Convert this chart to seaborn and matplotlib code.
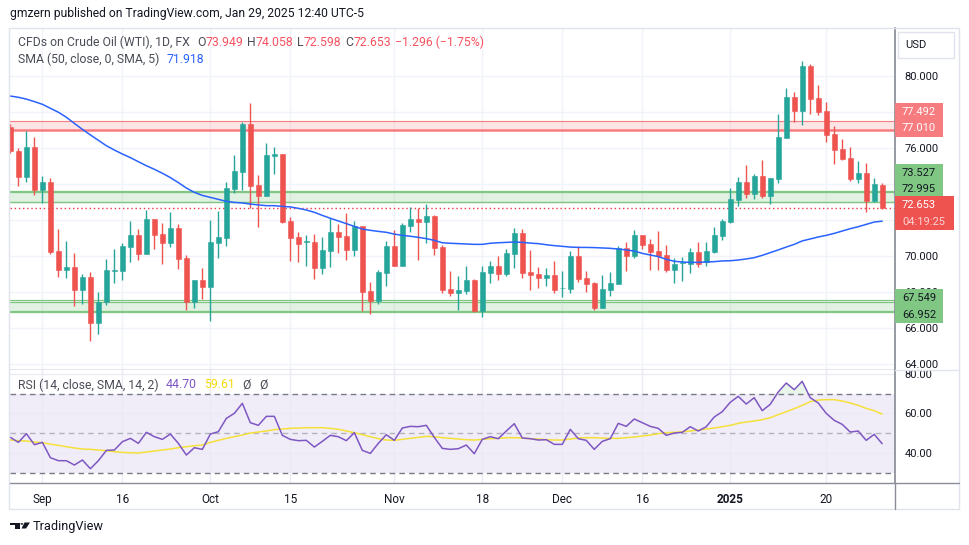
import numpy as np
import pandas as pd
import matplotlib
matplotlib.use("Agg")
import matplotlib.pyplot as plt
from matplotlib.patches import Rectangle, Polygon, Circle
from matplotlib.lines import Line2D
import seaborn as sns

# trading days on the chart (CFD trades US holidays, not Christmas / New Year)
dates = pd.bdate_range("2024-08-27", "2025-01-29")
dates = dates[~dates.isin(pd.to_datetime(["2024-12-25", "2025-01-01"]))]

opens = [77.17, 75.82, 74.39, 76.04, 73.63, 74.09, 70.26, 69.22, 69.37, 68.11,
         68.82, 66.26, 67.41, 69.17, 69.15, 70.48, 71.15, 70.11, 72.04, 71.20,
         70.71, 71.54, 69.87, 67.43, 68.65, 68.26, 70.70, 70.98, 73.70, 74.65,
         77.32, 73.93, 73.32, 75.54, 75.65, 71.93, 71.04, 70.76, 70.76, 69.32,
         70.26, 71.32, 71.09, 70.32, 71.65, 68.04, 67.48, 69.04, 70.54, 69.43,
         71.65, 72.04, 71.87, 72.20, 70.48, 68.15, 67.93, 68.04, 68.65, 66.93,
         69.04, 69.43, 68.98, 70.09, 71.26, 69.09, 68.98, 68.76, 68.93, 68.18,
         68.15, 69.98, 68.76, 68.48, 67.11, 68.11, 68.45, 70.43, 70.00, 71.15,
         70.65, 70.26, 70.04, 69.21, 69.60, 69.56, 70.21, 69.65, 70.21, 71.09,
         71.87, 73.10, 74.10, 73.43, 74.43, 73.32, 74.26, 76.54, 78.82, 78.04,
         80.54, 78.76, 78.04, 76.76, 75.93, 75.43, 74.26, 74.60, 73.04, 73.949]
highs = [77.30, 75.96, 76.93, 76.59, 74.41, 74.30, 71.48, 70.82, 70.15, 69.00,
         69.08, 67.98, 69.82, 70.37, 70.70, 71.93, 71.48, 72.54, 72.04, 71.82,
         72.43, 71.76, 70.04, 68.65, 69.32, 71.98, 72.48, 74.09, 75.59, 77.43,
         78.48, 74.48, 76.26, 76.04, 75.65, 72.15, 71.32, 71.15, 71.20, 71.04,
         72.09, 71.76, 72.37, 71.93, 71.65, 68.54, 69.20, 70.82, 71.43, 71.82,
         72.71, 72.65, 72.87, 72.26, 70.59, 69.15, 68.87, 69.43, 68.70, 69.43,
         69.70, 69.98, 70.37, 71.54, 71.48, 70.32, 69.37, 69.32, 69.70, 69.15,
         70.26, 70.54, 69.15, 68.54, 68.93, 69.09, 70.54, 70.76, 71.43, 71.15,
         70.93, 71.37, 70.59, 69.87, 69.93, 70.43, 70.76, 70.76, 71.59, 72.04,
         73.76, 74.37, 75.04, 74.54, 75.32, 74.32, 77.87, 79.32, 79.09, 80.82,
         80.65, 79.48, 78.54, 77.21, 76.48, 76.04, 75.26, 75.15, 74.32, 74.058]
lows = [75.70, 73.87, 74.11, 73.37, 72.95, 70.11, 68.82, 68.78, 67.22, 67.33,
        65.28, 65.67, 67.26, 68.48, 68.67, 69.67, 69.78, 70.11, 70.37, 69.56,
        70.48, 69.28, 66.98, 67.09, 67.59, 66.39, 69.87, 70.54, 73.48, 73.65,
        72.65, 71.59, 73.32, 74.54, 71.82, 69.71, 69.65, 69.43, 68.71, 68.98,
        69.37, 70.15, 69.76, 69.98, 66.93, 66.76, 67.32, 68.31, 69.43, 69.43,
        71.32, 69.76, 70.71, 70.04, 67.93, 67.76, 66.98, 67.87, 66.85, 66.59,
        68.48, 68.65, 68.87, 69.32, 68.76, 68.09, 68.20, 68.31, 67.93, 67.70,
        67.93, 68.54, 67.98, 67.00, 67.11, 67.78, 68.45, 69.17, 69.89, 70.37,
        69.23, 69.20, 69.09, 68.50, 68.61, 69.06, 69.39, 69.45, 70.15, 70.87,
        71.82, 72.76, 73.21, 73.15, 73.21, 72.87, 74.04, 76.54, 77.43, 77.26,
        77.87, 77.82, 76.32, 75.10, 75.32, 74.15, 74.04, 72.43, 72.98, 72.598]
closes = [75.80, 74.39, 76.04, 73.63, 74.09, 70.22, 69.22, 69.37, 68.11, 68.82,
          66.26, 67.41, 69.19, 69.22, 70.54, 71.15, 70.11, 72.04, 71.15, 70.71,
          71.54, 69.82, 67.43, 68.65, 68.26, 70.76, 71.04, 73.76, 74.71, 77.32,
          73.87, 73.32, 75.59, 75.65, 71.87, 70.98, 70.65, 70.81, 69.32, 70.32,
          71.32, 71.04, 70.32, 71.65, 67.98, 67.48, 69.09, 70.54, 69.43, 71.70,
          72.04, 71.87, 72.20, 70.43, 68.09, 67.93, 68.09, 68.65, 66.93, 69.09,
          69.43, 68.98, 70.15, 71.26, 69.04, 68.93, 68.76, 68.93, 68.09, 68.22,
          69.98, 68.70, 68.43, 67.11, 68.15, 68.48, 70.43, 70.00, 71.15, 70.61,
          70.23, 70.00, 69.21, 69.54, 69.65, 70.21, 69.56, 70.26, 71.15, 71.93,
          73.15, 74.10, 73.43, 74.43, 73.32, 74.32, 76.59, 78.82, 78.04, 80.54,
          78.71, 77.98, 76.71, 75.87, 75.37, 74.26, 74.60, 73.04, 73.98, 72.653]
sma50 = [78.87, 78.80, 78.70, 78.56, 78.41, 78.19, 77.97, 77.69, 77.35, 77.02,
         76.71, 76.41, 76.11, 75.87, 75.65, 75.45, 75.22, 75.00, 74.80, 74.58,
         74.34, 74.06, 73.76, 73.52, 73.35, 73.24, 73.13, 73.02, 72.96, 72.93,
         72.87, 72.82, 72.78, 72.78, 72.74, 72.71, 72.63, 72.54, 72.41, 72.24,
         72.08, 71.93, 71.78, 71.63, 71.48, 71.41, 71.35, 71.30, 71.20, 71.13,
         71.08, 71.02, 70.95, 70.85, 70.72, 70.69, 70.67, 70.65, 70.63, 70.63,
         70.69, 70.72, 70.74, 70.76, 70.74, 70.70, 70.67, 70.61, 70.56, 70.52,
         70.48, 70.46, 70.46, 70.45, 70.43, 70.41, 70.37, 70.32, 70.26, 70.13,
         70.04, 69.95, 69.80, 69.69, 69.65, 69.63, 69.63, 69.65, 69.67, 69.71,
         69.72, 69.76, 69.82, 69.89, 70.02, 70.17, 70.32, 70.48, 70.63, 70.82,
         70.93, 71.04, 71.13, 71.24, 71.37, 71.50, 71.61, 71.74, 71.87, 71.918]
rsi = [47.90, 45.37, 49.76, 44.19, 45.37, 37.61, 36.09, 36.09, 33.90, 36.43,
       32.04, 36.09, 41.32, 41.49, 45.71, 47.40, 44.87, 50.44, 48.24, 46.89,
       49.59, 44.87, 38.96, 42.67, 41.83, 49.59, 50.77, 57.52, 60.06, 65.12,
       55.33, 53.98, 58.54, 58.54, 48.92, 46.89, 46.22, 46.39, 43.01, 45.88,
       48.92, 48.24, 46.22, 50.27, 41.32, 39.80, 44.87, 49.25, 46.39, 52.63,
       53.47, 53.30, 53.98, 47.90, 42.33, 41.83, 42.17, 44.02, 39.63, 46.89,
       48.24, 47.23, 51.11, 54.82, 47.57, 47.23, 46.55, 46.72, 44.36, 44.36,
       51.95, 47.23, 46.39, 41.83, 45.88, 47.23, 54.99, 53.47, 57.19, 55.33,
       53.47, 52.46, 48.92, 50.10, 50.44, 53.30, 51.11, 53.30, 58.20, 60.90,
       65.63, 68.66, 64.78, 67.99, 61.41, 64.61, 70.86, 75.41, 72.04, 76.26,
       67.99, 65.29, 60.06, 56.51, 54.49, 50.60, 51.11, 46.39, 49.42, 44.70]
rsi_sma = [46.55, 46.20, 46.05, 45.54, 45.20, 44.50, 43.85, 43.18, 42.50, 42.00,
           41.83, 41.49, 41.15, 40.65, 40.30, 40.14, 39.97, 40.48, 40.99, 41.49,
           42.00, 42.67, 43.18, 43.68, 44.02, 45.37, 46.39, 47.40, 48.24, 49.08,
           50.10, 50.60, 51.11, 51.79, 52.12, 52.46, 52.63, 52.80, 52.80, 52.80,
           52.46, 51.95, 51.11, 50.27, 49.25, 48.24, 47.23, 46.55, 46.39, 46.89,
           47.40, 47.90, 48.41, 48.24, 47.74, 47.40, 47.06, 46.72, 46.55, 46.89,
           47.23, 47.40, 47.74, 47.74, 47.57, 47.23, 47.06, 46.72, 46.55, 46.55,
           47.06, 47.57, 47.74, 47.74, 47.57, 47.40, 47.40, 47.74, 48.07, 48.58,
           49.08, 49.76, 50.27, 50.44, 50.77, 51.11, 51.62, 52.12, 52.63, 53.30,
           53.98, 54.99, 55.67, 56.17, 56.85, 57.86, 59.38, 60.90, 62.42, 64.11,
           65.96, 66.81, 66.98, 66.98, 66.30, 65.29, 64.11, 62.59, 61.41, 59.61]

# horizontal zones drawn by the author
red_zone = (77.010, 77.492)
green_zones = [(72.995, 73.527), (72.995, 73.62), (66.952, 67.549), (66.87, 67.41)]
last_price = 72.653

tick_dates = ["2024-09-02", "2024-09-16", "2024-10-01", "2024-10-15", "2024-11-01",
              "2024-11-18", "2024-12-02", "2024-12-16", "2025-01-02", "2025-01-20"]
tick_labels = ["Sep", "16", "Oct", "15", "Nov", "18", "Dec", "16", "2025", "20"]
hidden_price_ticks = [72, 74, 78]  # covered by the price labels on the scale

UP, DOWN = "#26A69A", "#EF5350"
TXT = "#131722"
W, H = 970, 545

sns.set_theme(style="white")
plt.rcParams["font.family"] = ["Roboto", "DejaVu Sans"]

df = pd.DataFrame({"date": dates, "open": opens, "high": highs, "low": lows,
                   "close": closes, "sma": sma50, "rsi": rsi, "rsi_sma": rsi_sma})
df["x"] = np.arange(len(df))
ticks = [int(np.where(df["date"] == pd.Timestamp(d))[0][0]) for d in tick_dates]


def box(x0, y0, x1, y1):
    return [x0 / W, 1 - y1 / H, (x1 - x0) / W, (y1 - y0) / H]


fig = plt.figure(figsize=(W / 100, H / 100), dpi=100)
ax = fig.add_axes(box(10, 28, 895, 370))
ax2 = fig.add_axes(box(10, 370, 895, 483), sharex=ax)

# ---- price pane ----
col = np.where(df["close"] >= df["open"], UP, DOWN)
ax.vlines(df["x"], df["low"], df["high"], color=col, lw=1, zorder=3)
ax.bar(df["x"], (df["close"] - df["open"]).abs(), bottom=df[["open", "close"]].min(axis=1),
       width=0.62, color=col, edgecolor=col, linewidth=0.4, zorder=4)
sns.lineplot(data=df, x="x", y="sma", ax=ax, color="#2962FF", lw=1.1, zorder=5, legend=False)

ax.axhspan(*red_zone, color="#F77C80", alpha=0.2, lw=0, zorder=1)
ax.axhline(red_zone[1], color="#F77C80", lw=0.8, zorder=2)
ax.axhline(red_zone[0], color="#F77C80", lw=1.8, zorder=2)
for lo, hi in green_zones:
    ax.axhspan(lo, hi, color="#81C784", alpha=0.12, lw=0, zorder=1)
    ax.axhline(hi, color="#81C784", lw=0.9, zorder=2)
    ax.axhline(lo, color="#81C784", lw=0.9, zorder=2)
ax.axhline(last_price, color="#F23645", lw=1, ls=(0, (1, 2)), zorder=2)

ax.set_xlim(-0.05, 110.6)
ax.set_ylim(63.65, 82.65)
ax.yaxis.tick_right()
ax.set_yticks(np.arange(64, 81, 2))
ax.yaxis.set_major_formatter(matplotlib.ticker.FuncFormatter(
    lambda v, p: "" if round(v) in hidden_price_ticks else f"{v:.3f}"))
ax.tick_params(axis="y", length=0, pad=7, labelsize=8, labelcolor=TXT)
ax.tick_params(axis="x", length=0, labelbottom=False)
ax.set_xticks(ticks)
ax.grid(True, color="#F0F3FA", lw=1)
ax.set_xlabel("")
ax.set_ylabel("")
for s in ["top", "left"]:
    ax.spines[s].set_visible(False)
ax.spines["bottom"].set_color("#E0E3EB")
ax.spines["right"].set_color("#8A8D96")

# price scale labels
ytr = ax.get_yaxis_transform()
labels = [(77.54, ["77.492", "77.010"], "#F77C80", ["white", "white"], 48),
          (74.15, ["73.527", "72.995"], "#81C784", [TXT, TXT], 48),
          (72.36, ["72.653", "04:19:25"], "#EF5350", ["white", "#FBD3D4"], 59),
          (67.20, ["67.549", "66.952"], "#81C784", [TXT, TXT], 48)]
for yc, lines, fc, tcs, wpx in labels:
    ax.add_patch(Rectangle((1.0, yc - 17 / 18), wpx / 885, 34 / 18, transform=ytr,
                           fc=fc, ec="none", clip_on=False, zorder=8))
    for k, (s, tc) in enumerate(zip(lines, tcs)):
        ax.text(1.0 + 7 / 885, yc + (0.47 if k == 0 else -0.47), s, transform=ytr,
                color=tc, fontsize=8, va="center", ha="left", zorder=9, clip_on=False)

# ---- RSI pane ----
ax2.axhspan(30, 70, color="#7E57C2", alpha=0.1, lw=0, zorder=0)
ax2.axhline(70, color="#787B86", lw=1, ls=(0, (4, 3)), zorder=2)
ax2.axhline(30, color="#787B86", lw=1, ls=(0, (4, 3)), zorder=2)
ax2.axhline(50, color="#787B86", lw=1, ls=(0, (4, 3)), alpha=0.5, zorder=2)
ax2.fill_between(df["x"], 70, df["rsi"], where=df["rsi"] > 70, interpolate=True,
                 color="#4CAF50", alpha=0.12, lw=0)
sns.lineplot(data=df, x="x", y="rsi_sma", ax=ax2, color="#F5E03A", lw=1.1, zorder=4, legend=False)
sns.lineplot(data=df, x="x", y="rsi", ax=ax2, color="#7E57C2", lw=1.1, zorder=5, legend=False)
ax2.set_ylim(24.8, 82.0)
ax2.yaxis.tick_right()
ax2.set_yticks([40, 60, 80])
ax2.yaxis.set_major_formatter(matplotlib.ticker.FormatStrFormatter("%.2f"))
ax2.tick_params(axis="y", length=0, pad=7, labelsize=8, labelcolor=TXT)
ax2.set_xticks(ticks)
ax2.set_xticklabels(tick_labels)
ax2.tick_params(axis="x", length=0, pad=7, labelsize=8.5, labelcolor=TXT)
for lab in ax2.get_xticklabels():
    if lab.get_text() == "2025":
        lab.set_fontweight("bold")
ax2.grid(True, color="#ECEAF4", lw=1)
ax2.set_xlabel("")
ax2.set_ylabel("")
for s in ["top", "left", "bottom"]:
    ax2.spines[s].set_visible(False)
ax2.spines["right"].set_color("#8A8D96")

# ---- frame lines ----
def fx(x):
    return x / W


def fy(y):
    return 1 - y / H


fig.add_artist(Rectangle((fx(9.5), fy(509)), (959 - 9.5) / W, (509 - 27.5) / H,
                         transform=fig.transFigure, fill=False, ec="#E0E3EB", lw=1))
fig.add_artist(Line2D([fx(10), fx(959)], [fy(483), fy(483)], color="#8A8D96", lw=1))
fig.add_artist(Line2D([fx(895), fx(895)], [fy(483), fy(509)], color="#8A8D96", lw=1))
fig.add_artist(Line2D([fx(895), fx(959)], [fy(370), fy(370)], color="#E0E3EB", lw=1))

# USD button
fig.add_artist(Rectangle((fx(898), fy(58)), 56 / W, 26 / H, transform=fig.transFigure,
                         fc="white", ec="#E0E3EB", lw=1))
fig.text(fx(905), fy(45), "USD", fontsize=8, color=TXT, va="center")


# ---- legends ----
def chain(target, items, x, y, size=8.8):
    t = fig.text(fx(x), fy(y), items[0][0], color=items[0][1], fontsize=size, va="center",
                 zorder=10)
    for s, c, gap in items[1:]:
        t = target.annotate(s, xy=(1, 0.5), xycoords=t, xytext=(gap, 0),
                            textcoords="offset pixels", color=c, fontsize=size,
                            va="center", ha="left", annotation_clip=False, zorder=10)
    return t


GRAY = "#4A4D57"
RED = "#F7525F"
chain(ax, [("CFDs on Crude Oil (WTI), 1D, FX", GRAY), ("O", GRAY, 7), ("73.949", RED, 0),
           ("H", GRAY, 4), ("74.058", RED, 0), ("L", GRAY, 4), ("72.598", RED, 0),
           ("C", GRAY, 4), ("72.653", RED, 0), ("\u22121.296 (\u22121.75%)", RED, 4)], 18, 42)
chain(ax, [("SMA (50, close, 0, SMA, 5)", GRAY), ("71.918", "#2962FF", 7)], 18, 59)
chain(ax2, [("RSI (14, close, SMA, 14, 2)", GRAY), ("44.70", "#7E57C2", 7),
            ("59.61", "#F5D90A", 7), ("\u00d8", GRAY, 8), ("\u00d8", GRAY, 8)], 18, 385)

fig.text(fx(10), fy(14), "gmzern published on TradingView.com, Jan 29, 2025 12:40 UTC-5",
         fontsize=8.7, color=TXT, va="center")

# TradingView logo
fig.add_artist(Polygon([(fx(10), fy(522.5)), (fx(19.5), fy(522.5)), (fx(19.5), fy(528.5)),
                        (fx(15.5), fy(528.5)), (fx(15.5), fy(525.2)), (fx(10), fy(525.2))],
                       closed=True, transform=fig.transFigure, fc=TXT, ec="none"))
fig.add_artist(Circle((fx(21.8), fy(523.9)), 1.4 / W, transform=fig.transFigure, fc=TXT, ec="none"))
fig.add_artist(Polygon([(fx(24.5), fy(522.5)), (fx(30), fy(522.5)), (fx(26), fy(528.5)),
                        (fx(21.5), fy(528.5))], closed=True, transform=fig.transFigure,
                       fc=TXT, ec="none"))
fig.text(fx(33), fy(526.5), "TradingView", fontsize=9.2, color=TXT, va="center")

fig.savefig("out.png", dpi=100, facecolor="white")
